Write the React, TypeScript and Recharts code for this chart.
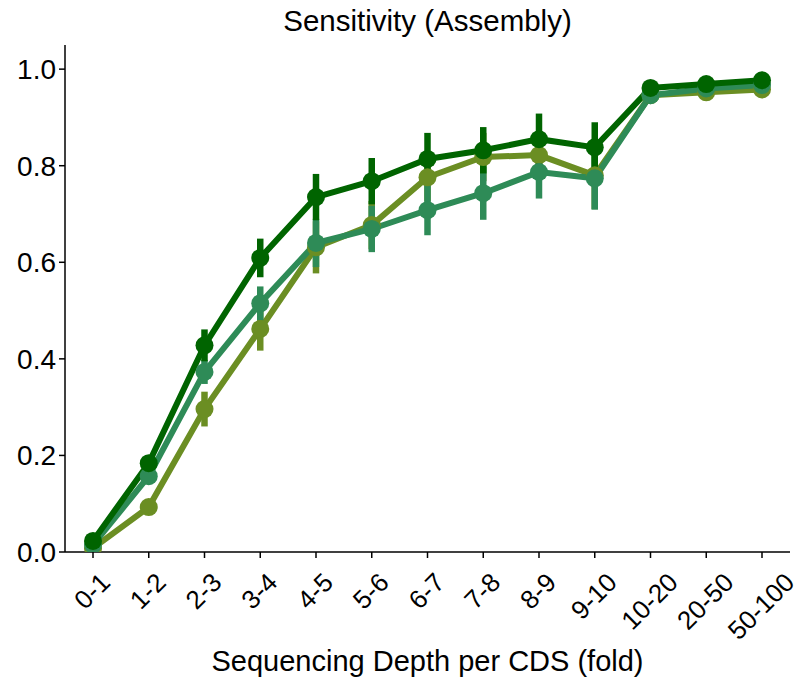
import { LineChart, Line, XAxis, YAxis, ErrorBar } from 'recharts';

const depthBins = ['0-1', '1-2', '2-3', '3-4', '4-5', '5-6', '6-7', '7-8', '8-9', '9-10', '10-20', '20-50', '50-100'];

const oliveMean = [0.008, 0.093, 0.296, 0.462, 0.631, 0.677, 0.776, 0.818, 0.822, 0.78, 0.946, 0.952, 0.958];
const oliveErr = [0.005, 0.01, 0.036, 0.045, 0.054, 0.05, 0.05, 0.05, 0.05, 0.07, 0.008, 0.006, 0.005];

const seaMean = [0.015, 0.157, 0.373, 0.515, 0.64, 0.669, 0.708, 0.743, 0.787, 0.774, 0.946, 0.96, 0.967];
const seaErr = [0.005, 0.015, 0.025, 0.035, 0.05, 0.048, 0.052, 0.055, 0.055, 0.065, 0.01, 0.006, 0.006];

const darkMean = [0.023, 0.184, 0.428, 0.609, 0.735, 0.768, 0.814, 0.832, 0.855, 0.838, 0.961, 0.969, 0.977];
const darkErr = [0.005, 0.01, 0.033, 0.04, 0.048, 0.048, 0.054, 0.048, 0.053, 0.052, 0.008, 0.006, 0.005];

const yTicks = [0, 0.2, 0.4, 0.6, 0.8, 1.0];

const data = depthBins.map((name, i) => ({
  name,
  olive: oliveMean[i],
  oliveErr: oliveErr[i],
  sea: seaMean[i],
  seaErr: seaErr[i],
  dark: darkMean[i],
  darkErr: darkErr[i],
}));

const FONT = '"Liberation Sans", Arial, sans-serif';
const FS = 28;
const XFS = 26;
const TITLE_FS = 29.5;

// rough text width for Arial-like digits/hyphens
const textWidth = (s: string) =>
  s.split('').reduce((w, c) => w + (c === '-' ? 0.333 : 0.556) * XFS, 0);

const XTick = (props: any) => {
  const { x, y, payload } = props;
  const label = String(payload.value);
  const w = textWidth(label);
  const cx = x - 1;
  const cy = y + 13 + 0.354 * (w + 19);
  return (
    <text
      x={cx}
      y={cy}
      textAnchor="middle"
      dominantBaseline="central"
      transform={`rotate(-45, ${cx}, ${cy})`}
      fontSize={XFS}
      fontFamily={FONT}
      fill="#000"
    >
      {label}
    </text>
  );
};

export default function App() {
  return (
    <div style={{ position: 'absolute', left: 0, top: 0, width: 799, height: 687, background: '#fff', fontFamily: FONT }}>
      <div
        style={{
          position: 'absolute',
          left: 65,
          width: 725,
          top: 4,
          textAlign: 'center',
          fontSize: TITLE_FS,
          lineHeight: '34px',
          color: '#000',
        }}
      >
        Sensitivity (Assembly)
      </div>
      <LineChart width={799} height={687} data={data} margin={{ top: 45, right: 9, bottom: 0, left: 0 }}>
        <XAxis
          dataKey="name"
          padding={{ left: 28, right: 28 }}
          height={135}
          tickSize={6}
          tickMargin={0}
          axisLine={{ stroke: '#000', strokeWidth: 1.5 }}
          tickLine={{ stroke: '#000', strokeWidth: 1.5 }}
          tick={<XTick />}
          interval={0}
          label={{ value: 'Sequencing Depth per CDS (fold)', position: 'insideBottom', offset: 16, fontSize: 29, fill: '#000', fontFamily: FONT }}
        />
        <YAxis
          width={65}
          domain={[0, 1.05]}
          ticks={yTicks}
          allowDataOverflow
          tickFormatter={(v: number) => v.toFixed(1)}
          tickSize={6}
          tickMargin={3}
          axisLine={{ stroke: '#000', strokeWidth: 1.5 }}
          tickLine={{ stroke: '#000', strokeWidth: 1.5 }}
          tick={{ fontSize: FS, fill: '#000', fontFamily: FONT }}
        />
        <Line
          dataKey="olive"
          stroke="#6b8e23"
          strokeWidth={6}
          dot={{ r: 9, fill: '#6b8e23', stroke: 'none' }}
          activeDot={false}
          isAnimationActive={false}
        >
          <ErrorBar dataKey="oliveErr" width={0} stroke="#6b8e23" strokeWidth={6.5} direction="y" />
        </Line>
        <Line
          dataKey="sea"
          stroke="#2e8b57"
          strokeWidth={6}
          dot={{ r: 9, fill: '#2e8b57', stroke: 'none' }}
          activeDot={false}
          isAnimationActive={false}
        >
          <ErrorBar dataKey="seaErr" width={0} stroke="#2e8b57" strokeWidth={6.5} direction="y" />
        </Line>
        <Line
          dataKey="dark"
          stroke="#006400"
          strokeWidth={6}
          dot={{ r: 9, fill: '#006400', stroke: 'none' }}
          activeDot={false}
          isAnimationActive={false}
        >
          <ErrorBar dataKey="darkErr" width={0} stroke="#006400" strokeWidth={6.5} direction="y" />
        </Line>
      </LineChart>
    </div>
  );
}
